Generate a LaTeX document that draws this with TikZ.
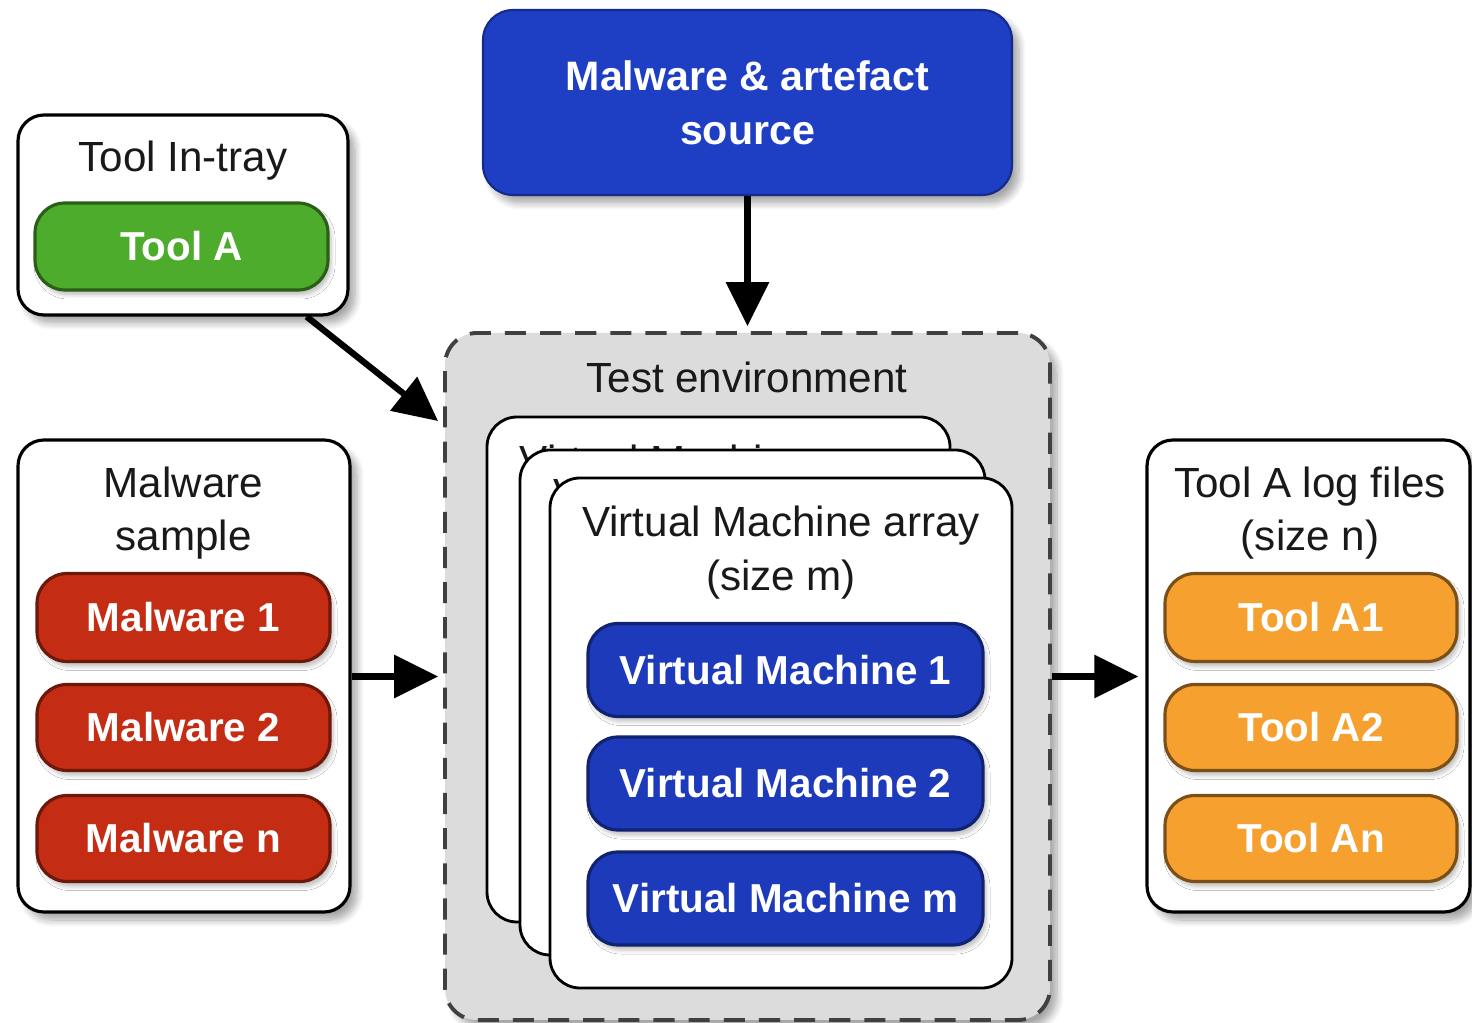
\documentclass[tikz,border=0pt]{standalone}
\usepackage{fontspec}
\setmainfont{Liberation Sans}
\usetikzlibrary{arrows.meta,shadows.blur}

\definecolor{srcblue}{RGB}{30,62,196}
\definecolor{vmblue}{RGB}{28,58,186}
\definecolor{malred}{RGB}{196,44,20}
\definecolor{toolgreen}{RGB}{78,172,44}
\definecolor{logorange}{RGB}{246,160,48}
\definecolor{envgray}{RGB}{220,220,220}
\definecolor{titletext}{RGB}{25,25,25}

\tikzset{
  basefont/.style={font=\fontsize{12}{15.3}\selectfont, align=center, inner sep=0pt},
  softshadow/.style={blur shadow={shadow xshift=0.07cm, shadow yshift=-0.08cm, shadow blur steps=8, shadow opacity=35, shadow blur radius=0.07cm}},
  panel/.style={draw=black, line width=0.9pt, fill=white, rounded corners=0.26cm, softshadow},
  card/.style={draw=black, line width=0.8pt, fill=white, rounded corners=0.3cm},
  pill/.style={rounded corners=0.3cm, line width=0.9pt, text=white,
    font=\fontsize{11.5}{14}\selectfont\bfseries, inner sep=0pt,
    blur shadow={shadow xshift=0.03cm, shadow yshift=-0.05cm, shadow blur steps=5, shadow opacity=25, shadow blur radius=0.04cm}},
  greenpill/.style={pill, fill=toolgreen, draw=toolgreen!55!black},
  redpill/.style={pill, fill=malred, draw=malred!55!black},
  orangepill/.style={pill, fill=logorange, draw=logorange!50!black},
  bluepill/.style={pill, fill=vmblue, draw=vmblue!60!black},
  heading/.style={basefont, text=titletext},
  flow/.style={line width=1.8pt, -{Triangle[length=0.44cm,width=0.42cm]}},
}

\begin{document}
\begin{tikzpicture}[y=-1cm]
  \useasboundingbox (0,0) rectangle (14.72,10.23);

  % source of malware and artefacts
  \node[fill=srcblue, draw=srcblue!70!black, line width=0.6pt, rounded corners=0.3cm,
        minimum width=5.29cm, minimum height=1.85cm, text=white,
        font=\fontsize{11.7}{15.3}\selectfont\bfseries, align=center, softshadow]
        (src) at (7.475,1.025) {Malware \& artefact\\source};

  % tool in-tray
  \node[panel, minimum width=3.30cm, minimum height=2.00cm] (tray) at (1.83,2.15) {};
  \node[heading] (traytitle) at (1.83,1.61) {Tool In-tray};
  \node[greenpill, minimum width=2.93cm, minimum height=0.87cm] (toola) at (1.815,2.465) {Tool A};

  % malware sample
  \node[panel, minimum width=3.32cm, minimum height=4.72cm] (mal) at (1.84,6.76) {};
  \node[heading] (maltitle) at (1.835,5.13) {Malware\\sample};
  \node[redpill, minimum width=2.93cm, minimum height=0.88cm] (mal1) at (1.835,6.175) {Malware 1};
  \node[redpill, minimum width=2.93cm, minimum height=0.86cm] (mal2) at (1.835,7.275) {Malware 2};
  \node[redpill, minimum width=2.93cm, minimum height=0.86cm] (maln) at (1.835,8.385) {Malware n};

  % test environment
  \node[draw=black!75, fill=envgray, line width=1.1pt, dash pattern=on 6pt off 4pt,
        rounded corners=0.32cm, minimum width=6.05cm, minimum height=6.87cm,
        softshadow] (env) at (7.475,6.765) {};
  \node[heading] (envtitle) at (7.47,3.77) {Test environment};

  % stacked virtual machine cards; the rear ones show only the top of their titles
  \node[card, minimum width=4.63cm, minimum height=5.05cm] (card1) at (7.185,6.695) {};
  \node[heading, anchor=north] (card1title) at ([yshift=-0.29cm]card1.north) {Virtual Machine array};
  \node[card, minimum width=4.65cm, minimum height=5.05cm] (card2) at (7.525,7.025) {};
  \node[heading, anchor=north] (card2title) at ([yshift=-0.29cm]card2.north) {Virtual Machine array};
  \node[card, minimum width=4.62cm, minimum height=5.10cm] (card3) at (7.81,7.33) {};
  \node[heading, anchor=north] (card3title) at ([yshift=-0.29cm]card3.north) {Virtual Machine array\\(size m)};

  \node[bluepill, minimum width=3.95cm, minimum height=0.93cm] (vm1) at (7.855,6.70) {Virtual Machine 1};
  \node[bluepill, minimum width=3.95cm, minimum height=0.93cm] (vm2) at (7.855,7.835) {Virtual Machine 2};
  \node[bluepill, minimum width=3.95cm, minimum height=0.93cm] (vmm) at (7.855,8.985) {Virtual Machine m};

  % tool log files
  \node[panel, minimum width=3.23cm, minimum height=4.72cm] (log) at (13.085,6.76) {};
  \node[heading] (logtitle) at (13.10,5.13) {Tool A log files\\(size n)};
  \node[orangepill, minimum width=2.92cm, minimum height=0.88cm] (tool1) at (13.11,6.175) {Tool A1};
  \node[orangepill, minimum width=2.92cm, minimum height=0.86cm] (tool2) at (13.11,7.275) {Tool A2};
  \node[orangepill, minimum width=2.92cm, minimum height=0.86cm] (tooln) at (13.11,8.385) {Tool An};

  % flows
  \draw[flow] (src.south) -- ([yshift=0.05cm]env.north);
  \draw[flow] ([xshift=-0.43cm]tray.south east) -- ([xshift=-0.05cm,yshift=-0.9cm]env.north west);
  \draw[flow] (mal.east |- env.west) -- ([xshift=-0.05cm]env.west);
  \draw[flow] (env.east) -- ([xshift=-0.07cm]log.west |- env.east);
\end{tikzpicture}
\end{document}
